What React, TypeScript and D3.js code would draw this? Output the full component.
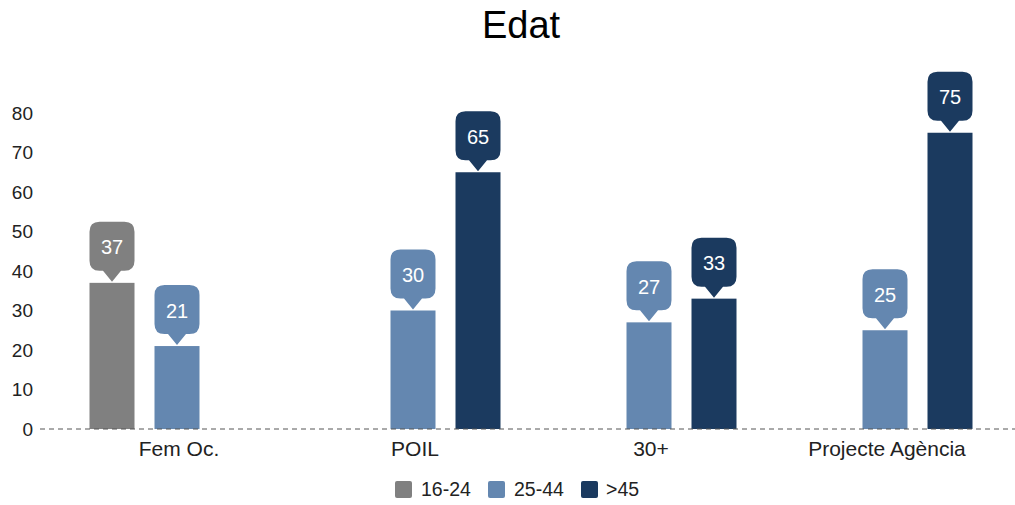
import React from "react";
import * as d3 from "d3";

const categories = ["Fem Oc.", "POIL", "30+", "Projecte Agència"];
const seriesNames = ["16-24", "25-44", ">45"];
const seriesColors = ["#808080", "#6487b0", "#1b3a5f"];
const values16_24: (number | null)[] = [37, null, null, null];
const values25_44: (number | null)[] = [21, 30, 27, 25];
const values45: (number | null)[] = [null, 65, 33, 75];
const yTicks = [0, 10, 20, 30, 40, 50, 60, 70, 80];

const W = 1015;
const H = 505;
const FONT = "Liberation Sans, Arial, sans-serif";

export default function App() {
  const series = [values16_24, values25_44, values45];
  const x = d3.scaleBand<string>().domain(categories).range([59, 1003]).paddingInner(0).paddingOuter(0);
  const y = d3.scaleLinear().domain([0, 80]).range([429, 113]);
  const offset = d3.scaleLinear().domain([0, 2]).range([-65, 65]);
  const barW = 45;
  const boxH = 49;
  const ptrH = 11;

  return (
    <svg width={W} height={H} style={{ position: "absolute", left: 0, top: 0, background: "#fff" }}>
      <text x={521} y={38} textAnchor="middle" fontFamily={FONT} fontSize={38} fill="#000">Edat</text>
      {yTicks.map((t) => (
        <text key={t} x={33} y={y(t)} dy="0.35em" textAnchor="end" fontFamily={FONT} fontSize={19} fill="#222">{t}</text>
      ))}
      {series.map((vals, si) =>
        vals.map((v, ci) => {
          if (v == null) return null;
          const cx = (x(categories[ci]) as number) + x.bandwidth() / 2 + offset(si);
          const top = y(v);
          const tip = top - 1;
          const bBottom = tip - ptrH;
          const bTop = bBottom - boxH;
          const l = cx - barW / 2;
          const r = cx + barW / 2;
          const rad = 10;
          const path = `M${l + rad},${bTop} H${r - rad} Q${r},${bTop} ${r},${bTop + rad} V${bBottom - rad} Q${r},${bBottom} ${r - rad},${bBottom} H${cx + 9} L${cx},${tip} L${cx - 9},${bBottom} H${l + rad} Q${l},${bBottom} ${l},${bBottom - rad} V${bTop + rad} Q${l},${bTop} ${l + rad},${bTop} Z`;
          return (
            <g key={`${si}-${ci}`}>
              <rect x={l} y={top} width={barW} height={y(0) - top} fill={seriesColors[si]} />
              <path d={path} fill={seriesColors[si]} />
              <text x={cx} y={(bTop + bBottom) / 2 + 1} dy="0.35em" textAnchor="middle" fontFamily={FONT} fontSize={20} fill="#fff">{v}</text>
            </g>
          );
        })
      )}
      <line x1={40} x2={1015} y1={y(0)} y2={y(0)} stroke="#555" strokeWidth={1} strokeDasharray="5,4" />
      {categories.map((c) => (
        <text key={c} x={(x(c) as number) + x.bandwidth() / 2 + 2} y={456} textAnchor="middle" fontFamily={FONT} fontSize={21} fill="#222">{c}</text>
      ))}
      {(() => {
        const items = [
          { sx: 395, tx: 421 },
          { sx: 488, tx: 514 },
          { sx: 581, tx: 606 },
        ];
        return seriesNames.map((n, i) => (
          <g key={n}>
            <rect x={items[i].sx} y={481} width={17} height={17} rx={2} fill={seriesColors[i]} />
            <text x={items[i].tx} y={496} fontFamily={FONT} fontSize={19.5} fill="#222">{n}</text>
          </g>
        ));
      })()}
    </svg>
  );
}
